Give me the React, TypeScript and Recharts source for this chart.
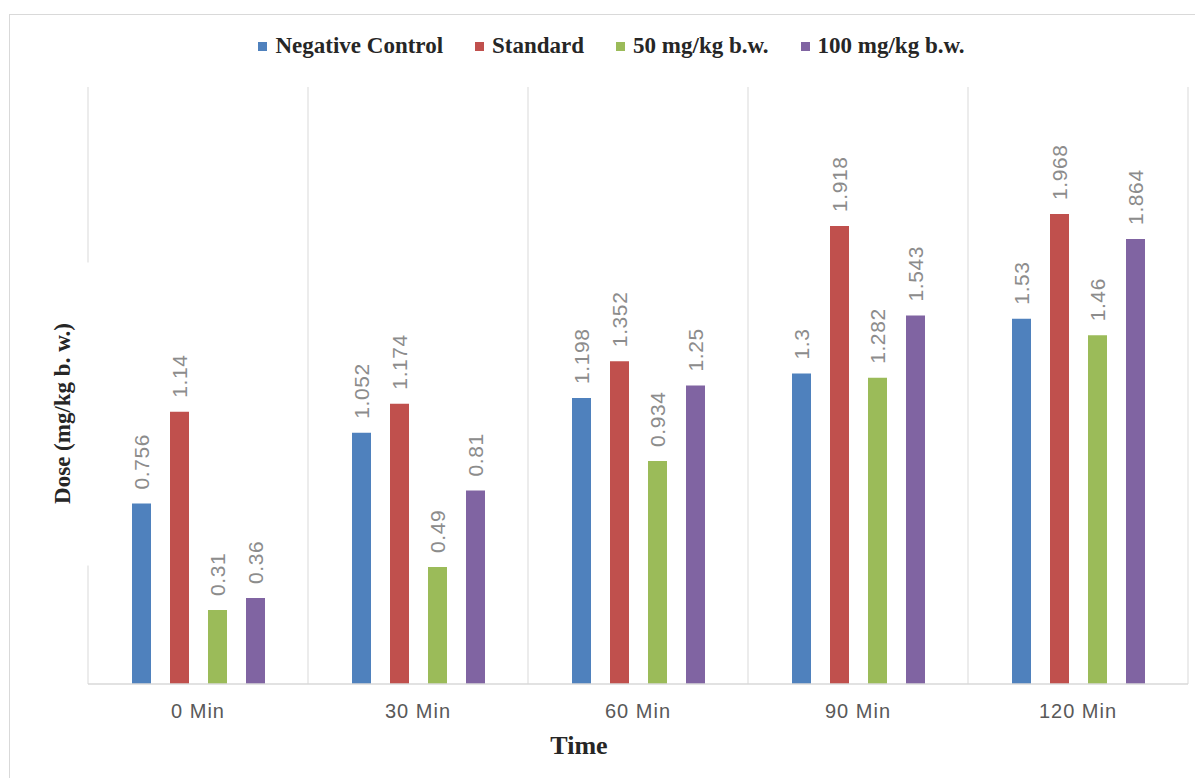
import { BarChart, Bar, XAxis, YAxis, CartesianGrid, Legend, LabelList } from "recharts";

const categories = ["0 Min", "30 Min", "60 Min", "90 Min", "120 Min"];
const negativeControl = [0.756, 1.052, 1.198, 1.3, 1.53];
const standard = [1.14, 1.174, 1.352, 1.918, 1.968];
const dose50 = [0.31, 0.49, 0.934, 1.282, 1.46];
const dose100 = [0.36, 0.81, 1.25, 1.543, 1.864];

const seriesKeys = ["neg", "std", "d50", "d100"];
const seriesNames = ["Negative Control", "Standard", "50 mg/kg b.w.", "100 mg/kg b.w."];
const seriesColors = ["#4F81BD", "#C0504D", "#9BBB59", "#8064A2"];
const seriesValues = [negativeControl, standard, dose50, dose100];

const data = categories.map((name, i) => {
  const row: Record<string, string | number> = { name };
  seriesKeys.forEach((k, s) => (row[k] = seriesValues[s][i]));
  return row;
});

const SERIF = "'Liberation Serif', 'Times New Roman', serif";
const SANS = "'Liberation Sans', Arial, sans-serif";

// vertical value label sitting above each bar
const ValueLabel = (props: any) => {
  const { x, y, width, value } = props;
  const cx = x + width / 2;
  const ty = y - 14;
  return (
    <text
      x={cx}
      y={ty}
      dy="0.36em"
      transform={`rotate(-90 ${cx} ${ty})`}
      textAnchor="start"
      fontFamily={SANS}
      fontSize={21}
      letterSpacing={0.6}
      fill="#8c8c8c"
    >
      {value}
    </text>
  );
};

const TimeTick = (props: any) => {
  const { x, y, payload } = props;
  return (
    <text x={x} y={y} dy={34} textAnchor="middle" fontFamily={SANS} fontSize={20} letterSpacing={1} fill="#595959">
      {payload.value}
    </text>
  );
};

const TimeTitle = (props: any) => {
  const vb = props.viewBox;
  return (
    <text
      x={vb.x + vb.width / 2 - 59}
      y={vb.y + 70}
      textAnchor="middle"
      fontFamily={SERIF}
      fontWeight="bold"
      fontSize={26}
      fill="#262626"
    >
      Time
    </text>
  );
};

// the title box is opaque, so it breaks the first grid line
const DoseTitle = (props: any) => {
  const vb = props.viewBox;
  const cx = vb.x + 52;
  const cy = vb.y + vb.height / 2 + 28;
  return (
    <g>
      <rect x={vb.x + 30} y={cy - 151} width={vb.width - 28} height={303} fill="#ffffff" />
      <text
        x={cx}
        y={cy}
        dy="0.33em"
        transform={`rotate(-90 ${cx} ${cy})`}
        textAnchor="middle"
        fontFamily={SERIF}
        fontWeight="bold"
        fontSize={23}
        fill="#262626"
      >
        Dose (mg/kg b. w.)
      </text>
    </g>
  );
};

const LegendBox = () => (
  <div
    style={{
      display: "flex",
      justifyContent: "center",
      alignItems: "center",
      paddingLeft: 18,
      fontFamily: SERIF,
      fontWeight: "bold",
      fontSize: 23,
      lineHeight: "26px",
      color: "#262626",
    }}
  >
    {seriesNames.map((name, i) => (
      <div key={name} style={{ display: "flex", alignItems: "center", marginRight: i < seriesNames.length - 1 ? 32 : 0 }}>
        <span style={{ display: "inline-block", width: 9, height: 9, background: seriesColors[i], marginRight: 8 }} />
        <span>{name}</span>
      </div>
    ))}
  </div>
);

// grid lines on the category boundaries rather than the tick centres
const boundaryLines = ({ offset }: any) =>
  categories.concat("").map((_, i) => offset.left + (i * offset.width) / categories.length);

export default function App() {
  return (
    <div style={{ position: "absolute", left: 0, top: 0, width: 1195, height: 778, overflow: "hidden", background: "#fff" }}>
      <div
        style={{
          position: "absolute",
          left: 9,
          top: 14,
          width: 1200,
          height: 800,
          border: "1px solid #d9d9d9",
          background: "#fff",
        }}
      >
        <BarChart
          width={1185}
          height={760}
          data={data}
          margin={{ top: 72, right: 7, bottom: 31, left: 0 }}
          barSize={19}
          barGap={19}
        >
          <CartesianGrid
            horizontal={false}
            stroke="#d9d9d9"
            strokeWidth={1}
            verticalCoordinatesGenerator={boundaryLines}
          />
          <XAxis
            dataKey="name"
            height={60}
            tickLine={false}
            tickSize={0}
            tickMargin={0}
            axisLine={{ stroke: "#d9d9d9", strokeWidth: 1.5 }}
            tick={<TimeTick />}
            interval={0}
            label={<TimeTitle />}
          />
          <YAxis width={78} domain={[0, 2.5]} tick={false} tickLine={false} axisLine={false} label={<DoseTitle />} />
          <Legend
            verticalAlign="middle"
            align="center"
            content={<LegendBox />}
            wrapperStyle={{ top: 18, left: 0, width: 1185 }}
          />
          {seriesKeys.map((k, i) => (
            <Bar key={k} dataKey={k} name={seriesNames[i]} fill={seriesColors[i]} isAnimationActive={false}>
              <LabelList dataKey={k} content={<ValueLabel />} />
            </Bar>
          ))}
        </BarChart>
      </div>
    </div>
  );
}
